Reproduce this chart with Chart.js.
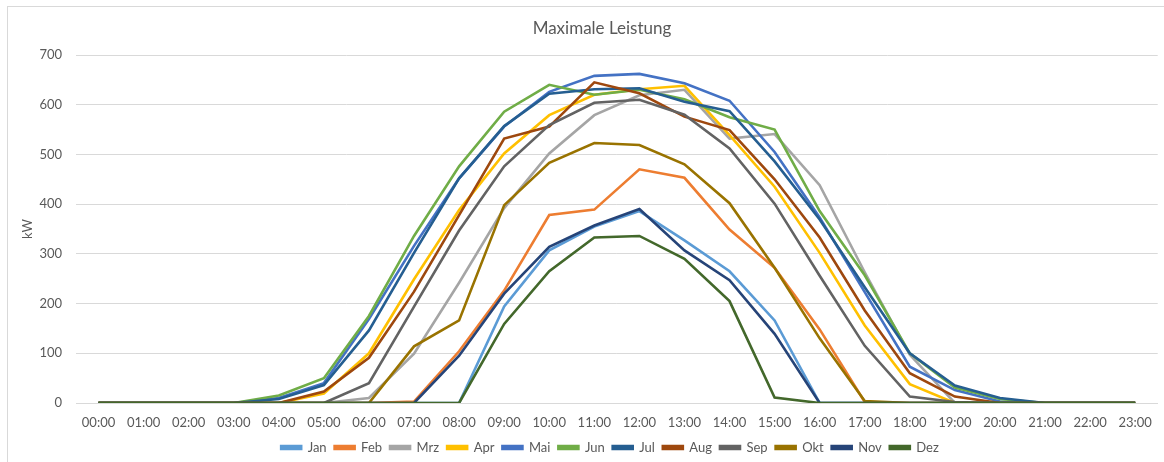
<!DOCTYPE html>
<html lang="de">
<head>
<meta charset="utf-8">
<title>Maximale Leistung</title>
<script src="https://cdn.jsdelivr.net/npm/chart.js@4/dist/chart.umd.min.js"></script>
<style>
  html, body { margin: 0; padding: 0; background: #ffffff; }
  #wrap { position: relative; width: 1164px; height: 462px; }
</style>
</head>
<body>
<div id="wrap"><canvas id="chart" width="1164" height="462"></canvas></div>
<script>
// Hourly time slots
const hours = ['00:00','01:00','02:00','03:00','04:00','05:00','06:00','07:00','08:00','09:00','10:00','11:00',
               '12:00','13:00','14:00','15:00','16:00','17:00','18:00','19:00','20:00','21:00','22:00','23:00'];

// Maximum power per hour of day (kW), one array per month
const jan = [0,0,0,0,0,0,0,0,0,194,307,355,386,327,265,166,0,0,0,0,0,0,0,0];
const feb = [0,0,0,0,0,0,0,3,104,226,378,389,470,453,349,272,148,2,0,0,0,0,0,0];
const mrz = [0,0,0,0,0,0,10,99,242,392,502,579,619,630,532,541,438,263,97,0,0,0,0,0];
const apr = [0,0,0,0,0,19,100,249,388,502,579,620,631,638,539,435,302,156,38,0,0,0,0,0];
const mai = [0,0,0,0,10,40,169,316,452,556,626,658,662,643,608,505,373,223,73,26,3,0,0,0];
const jun = [0,0,0,0,15,50,175,336,476,586,640,620,630,611,575,550,386,257,100,31,8,0,0,0];
const jul = [0,0,0,0,8,36,146,302,452,557,622,631,633,606,587,486,369,233,100,35,10,0,0,0];
const aug = [0,0,0,0,0,23,91,224,378,532,556,645,623,576,549,450,333,186,60,13,0,0,0,0];
const sep = [0,0,0,0,0,0,40,194,347,476,559,604,610,580,512,401,256,115,13,2,0,0,0,0];
const okt = [0,0,0,0,0,0,0,114,166,398,483,523,519,480,402,272,130,4,0,0,0,0,0,0];
const nov = [0,0,0,0,0,0,0,0,95,220,314,357,390,307,247,139,0,0,0,0,0,0,0,0];
const dez = [0,0,0,0,0,0,0,0,0,159,265,333,336,290,205,11,0,0,0,0,0,0,0,0];

const monthNames = ['Jan','Feb','Mrz','Apr','Mai','Jun','Jul','Aug','Sep','Okt','Nov','Dez'];
const monthValues = [jan, feb, mrz, apr, mai, jun, jul, aug, sep, okt, nov, dez];
const monthColors = ['#5B9BD5','#ED7D31','#A5A5A5','#FFC000','#4472C4','#70AD47',
                     '#255E91','#9E480E','#636363','#997300','#264478','#43682B'];

// y-axis tick range
const yMin = 0, yMax = 700, yStep = 100;

const FONT = 'Lato, "Liberation Sans", sans-serif';
const TEXT = '#595959';
const GRID = '#D9D9D9';

const datasets = monthNames.map((name, i) => ({
  label: name,
  data: monthValues[i],
  borderColor: monthColors[i],
  backgroundColor: monthColors[i],
  borderWidth: 2.6,
  pointRadius: 0,
  pointHoverRadius: 0,
  tension: 0,
  fill: false,
  order: monthNames.length - 1 - i   // later months painted on top
}));

// Thin frame around the whole chart, white fill behind it
const frame = {
  id: 'frame',
  beforeDraw(chart) {
    const ctx = chart.ctx;
    ctx.save();
    ctx.fillStyle = '#ffffff';
    ctx.fillRect(0, 0, chart.width, chart.height);
    ctx.strokeStyle = GRID;
    ctx.lineWidth = 1;
    ctx.strokeRect(7.5, 6.5, chart.width + 10, chart.height + 10);
    ctx.restore();
  }
};

// Title and legend sit a little right of the canvas centre
const blockShift = {
  id: 'blockShift',
  afterLayout(chart) {
    const t = chart.titleBlock;
    if (t) { t.left += 23; t.right += 23; }
    const l = chart.legend;
    if (l) {
      const dx = 31, dy = 2;
      l.left += dx; l.right += dx;
      l.top += dy; l.bottom += dy;
      if (l.legendHitBoxes) l.legendHitBoxes.forEach(b => { b.left += dx; b.top += dy; });
    }
  }
};

new Chart(document.getElementById('chart'), {
  type: 'line',
  data: { labels: hours, datasets },
  plugins: [frame, blockShift],
  options: {
    responsive: false,
    animation: false,
    events: [],
    layout: { padding: { left: 0, right: 6, top: 0, bottom: 0 } },
    plugins: {
      title: {
        display: true,
        text: 'Maximale Leistung',
        color: TEXT,
        font: { family: FONT, size: 17, weight: 'normal' },
        padding: { top: 18, bottom: 16.6 }
      },
      legend: {
        display: true,
        position: 'bottom',
        labels: {
          color: TEXT,
          font: { family: FONT, size: 13 },
          boxWidth: 20,
          boxHeight: 3,
          padding: 8,
          sort: (a, b) => a.datasetIndex - b.datasetIndex
        }
      },
      tooltip: { enabled: false }
    },
    scales: {
      x: {
        offset: true,
        grid: { display: false, drawTicks: false },
        border: { display: true, color: GRID, width: 1 },
        ticks: {
          color: TEXT,
          font: { family: FONT, size: 13 },
          padding: 12,
          maxRotation: 0,
          autoSkip: false
        },
        afterFit(scale) { scale.height = 28; }
      },
      y: {
        min: yMin,
        max: yMax,
        grid: { color: GRID, lineWidth: 1, drawTicks: false },
        border: { display: false },
        ticks: {
          stepSize: yStep,
          color: TEXT,
          font: { family: FONT, size: 13 },
          padding: 14
        },
        title: {
          display: true,
          text: 'kW',
          color: TEXT,
          font: { family: FONT, size: 13 },
          padding: { top: 20, bottom: 0 }
        },
        afterFit(scale) { scale.width = 76; }
      }
    }
  }
});
</script>
</body>
</html>
